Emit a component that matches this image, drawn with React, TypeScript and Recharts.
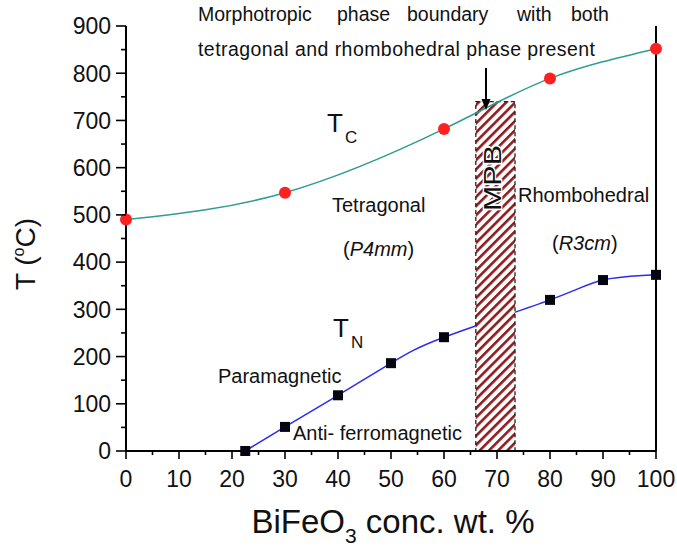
import React from 'react';
import { ComposedChart, Line, XAxis, YAxis, ReferenceArea } from 'recharts';

// Curie temperature (T_C) vs BiFeO3 content
const curieConc = [0, 30, 60, 80, 100];
const curieTemp = [490, 547, 682, 789, 852];

// Neel temperature (T_N) vs BiFeO3 content
const neelConc = [22.5, 30, 40, 50, 60, 80, 90, 100];
const neelTemp = [0, 51, 118, 186, 241, 320, 362, 373];

// morphotropic phase boundary band
const mpbConc = [66, 73.4];
const mpbTemp = [0, 740];

const xTicks = [0, 5, 10, 15, 20, 25, 30, 35, 40, 45, 50, 55, 60, 65, 70, 75, 80, 85, 90, 95, 100];
const yTicks = [0, 50, 100, 150, 200, 250, 300, 350, 400, 450, 500, 550, 600, 650, 700, 750, 800, 850, 900];
const yMajorTicks = [0, 100, 200, 300, 400, 500, 600, 700, 800, 900];

const curieData = curieConc.map((x, i) => ({ x, tc: curieTemp[i] }));
const neelData = neelConc.map((x, i) => ({ x, tn: neelTemp[i] }));

const FONT = "'Liberation Sans', Arial, Helvetica, sans-serif";
const INK = '#111';

const XTick = (props: any) => {
    const { x, y, payload } = props;
    const major = payload.value % 10 === 0;
    return (
        <g>
            <line x1={x} x2={x} y1={y} y2={y + (major ? 8 : 4)} stroke="#000" strokeWidth={1.6} />
            {major && (
                <text x={x} y={y + 36} textAnchor="middle" fontSize={23} fontFamily={FONT} fill={INK}>
                    {payload.value}
                </text>
            )}
        </g>
    );
};

const YTick = (props: any) => {
    const { x, y, payload } = props;
    const major = payload.value % 100 === 0;
    return (
        <g>
            <line x1={x} x2={x - (major ? 10 : 5)} y1={y} y2={y} stroke="#000" strokeWidth={1.6} />
            {major && (
                <text x={x - 15} y={y} dy="0.36em" textAnchor="end" fontSize={23} fontFamily={FONT} fill={INK}>
                    {payload.value}
                </text>
            )}
        </g>
    );
};

const RightTick = (props: any) => {
    const { x, y } = props;
    return <line x1={x} x2={x - 9} y1={y} y2={y} stroke="#000" strokeWidth={1.6} />;
};

const squareDot = (p: any) => (
    <rect key={`sq-${p.index}`} x={p.cx - 5} y={p.cy - 5} width={10} height={10} fill="#05050f" />
);

export default function App() {
    return (
        <div style={{ position: 'relative', width: 677, height: 547, background: '#fff' }}>
            <style>{'body{margin:0;}'}</style>
            <ComposedChart width={677} height={547} margin={{ top: 26, right: 0, bottom: 0, left: 0 }}>
                <XAxis
                    type="number"
                    dataKey="x"
                    domain={[0, 100]}
                    ticks={xTicks}
                    interval={0}
                    height={96}
                    tickSize={0}
                    tickMargin={0}
                    tickLine={false}
                    tick={XTick}
                    axisLine={{ stroke: '#000', strokeWidth: 2 }}
                />
                <YAxis
                    yAxisId="left"
                    type="number"
                    domain={[0, 900]}
                    ticks={yTicks}
                    interval={0}
                    width={126}
                    tickSize={0}
                    tickMargin={0}
                    tickLine={false}
                    tick={YTick}
                    axisLine={{ stroke: '#000', strokeWidth: 2 }}
                />
                <YAxis
                    yAxisId="right"
                    orientation="right"
                    type="number"
                    domain={[0, 900]}
                    ticks={yMajorTicks}
                    interval={0}
                    width={21}
                    tickSize={0}
                    tickMargin={0}
                    tickLine={false}
                    tick={RightTick}
                    axisLine={{ stroke: '#000', strokeWidth: 2 }}
                />
                <Line
                    yAxisId="left"
                    data={neelData}
                    dataKey="tn"
                    type="natural"
                    stroke="#2b2bf0"
                    strokeWidth={1.5}
                    dot={squareDot}
                    activeDot={false}
                    isAnimationActive={false}
                    zIndex={400}
                />
                {/* hatched band sits above the T_N curve, below the T_C curve */}
                <ReferenceArea
                    yAxisId="left"
                    x1={mpbConc[0]}
                    x2={mpbConc[1]}
                    y1={mpbTemp[0]}
                    y2={mpbTemp[1]}
                    fill="url(#mpbHatch)"
                    fillOpacity={1}
                    stroke="#222"
                    strokeWidth={1.3}
                    strokeDasharray="4 3"
                    ifOverflow="visible"
                    zIndex={450}
                />
                <Line
                    yAxisId="left"
                    data={curieData}
                    dataKey="tc"
                    type="natural"
                    stroke="#2f9c96"
                    strokeWidth={1.5}
                    dot={{ r: 6, fill: '#ff2020', stroke: 'none' }}
                    activeDot={false}
                    isAnimationActive={false}
                    zIndex={500}
                />
            </ComposedChart>

            <svg
                width={677}
                height={547}
                style={{ position: 'absolute', left: 0, top: 0, pointerEvents: 'none' }}
                fontFamily={FONT}
                fill={INK}
            >
                <defs>
                    <pattern id="mpbHatch" patternUnits="userSpaceOnUse" width={6.5} height={6.5} patternTransform="rotate(45)">
                        <rect width={6.5} height={6.5} fill="#fff" />
                        <rect width={2.6} height={6.5} fill="#8e1b1e" />
                    </pattern>
                </defs>

                {/* header note */}
                <text y={21} fontSize={19.5}>
                    <tspan x={198}>Morphotropic</tspan>
                    <tspan x={337}>phase</tspan>
                    <tspan x={407}>boundary</tspan>
                    <tspan x={517}>with</tspan>
                    <tspan x={571}>both</tspan>
                </text>
                <text x={198} y={56} fontSize={19.5} textLength={397} lengthAdjust="spacing">
                    tetragonal and rhombohedral phase present
                </text>
                <line x1={486} x2={486} y1={68} y2={100} stroke="#000" strokeWidth={2} />
                <polygon points="486,110 481.5,99 490.5,99" fill="#000" />

                {/* band label */}
                <text
                    transform="translate(501,178) rotate(-90)"
                    textAnchor="middle"
                    fontSize={23}
                    textLength={66}
                    lengthAdjust="spacingAndGlyphs"
                    stroke="#fff"
                    strokeWidth={2.5}
                    paintOrder="stroke"
                >
                    MPB
                </text>

                {/* curve labels */}
                <text x={327} y={132} fontSize={26}>T</text>
                <text x={345} y={143} fontSize={17}>C</text>
                <text x={333} y={337} fontSize={26}>T</text>
                <text x={351} y={348} fontSize={17}>N</text>

                {/* phase regions */}
                <text x={332} y={212} fontSize={20}>Tetragonal</text>
                <text x={343} y={256} fontSize={20}>
                    (<tspan fontStyle="italic">P4mm</tspan>)
                </text>
                <text x={518} y={202} fontSize={20}>Rhombohedral</text>
                <text x={552} y={250} fontSize={20}>
                    (<tspan fontStyle="italic">R3cm</tspan>)
                </text>
                <text x={218} y={383} fontSize={20}>Paramagnetic</text>
                <text x={293} y={440} fontSize={20}>Anti- ferromagnetic</text>

                {/* axis titles */}
                <text transform="translate(35,254) rotate(-90)" textAnchor="middle" fontSize={28}>
                    T (<tspan fontSize={16} dy={-11}>o</tspan>
                    <tspan dy={11}>C)</tspan>
                </text>
                <text x={393} y={533} textAnchor="middle" fontSize={33}>
                    BiFeO<tspan fontSize={21} dy={10}>3</tspan>
                    <tspan dy={-10}> conc. wt. %</tspan>
                </text>
            </svg>
        </div>
    );
}
